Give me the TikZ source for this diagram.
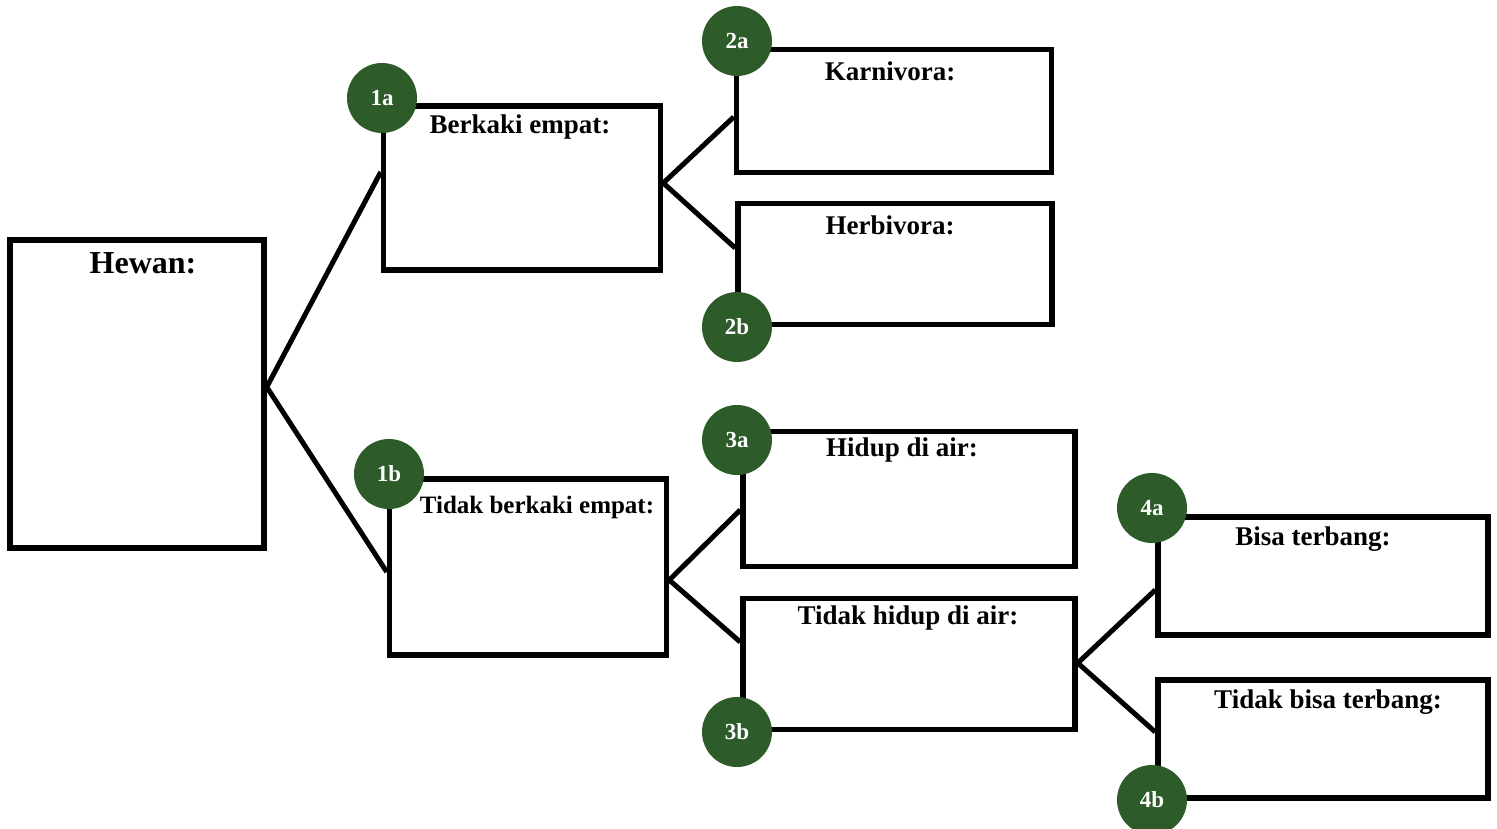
\documentclass[tikz,border=0pt]{standalone}
\usepackage{fontspec}
\setmainfont{Liberation Serif}
\definecolor{leafgreen}{RGB}{46,91,42}
\begin{document}
\begin{tikzpicture}
    [
    x=1pt,y=-1pt,
    box/.style={rectangle,draw,line width=5.5pt,inner sep=0pt},
    title/.style={anchor=base,inner sep=0pt,font=\bfseries\fontsize{27}{30}\selectfont},
    badge/.style={circle,fill=leafgreen,text=white,inner sep=0pt,minimum size=70pt,font=\bfseries\fontsize{23}{25}\selectfont},
    link/.style={line width=5pt}
    ]
    \useasboundingbox (0,0) rectangle (1497,829);
    \node (hewan) at (137,394) [box,minimum width=254pt,minimum height=308pt,label={[title,xshift=6pt,yshift=-36pt,font=\bfseries\fontsize{32}{34}\selectfont]north:Hewan:}] {};
    \node (berkaki) at (522,188) [box,minimum width=277pt,minimum height=164pt,label={[title,xshift=-2pt,yshift=-30pt]north:Berkaki empat:}] {};
    \node (tberkaki) at (528,567) [box,minimum width=277pt,minimum height=176pt,label={[title,xshift=9pt,yshift=-37pt,font=\bfseries\fontsize{25}{28}\selectfont]north:Tidak berkaki empat:}] {};
    \node (karnivora) at (894,111) [box,minimum width=315pt,minimum height=123pt,label={[title,xshift=-4pt,yshift=-34pt]north:Karnivora:}] {};
    \node (herbivora) at (895,264) [box,minimum width=314pt,minimum height=121pt,label={[title,xshift=-5pt,yshift=-34pt]north:Herbivora:}] {};
    \node (hidup) at (909,499) [box,minimum width=332pt,minimum height=135pt,label={[title,xshift=-7pt,yshift=-28pt]north:Hidup di air:}] {};
    \node (thidup) at (909,664) [box,minimum width=332pt,minimum height=131pt,label={[title,xshift=-1pt,yshift=-29pt]north:Tidak hidup di air:}] {};
    \node (bisa) at (1323,576) [box,minimum width=330pt,minimum height=118pt,label={[title,xshift=-10pt,yshift=-31pt]north:Bisa terbang:}] {};
    \node (tbisa) at (1323,739) [box,minimum width=330pt,minimum height=118pt,label={[title,xshift=5pt,yshift=-31pt]north:Tidak bisa terbang:}] {};
    \draw [link] ([yshift=7pt]hewan.east) -- ([yshift=16pt]berkaki.west);
    \draw [link] ([yshift=7pt]hewan.east) -- ([yshift=-5pt]tberkaki.west);
    \draw [link] ([yshift=5pt]berkaki.east) -- ([yshift=-6pt]karnivora.west);
    \draw [link] ([yshift=5pt]berkaki.east) -- ([yshift=16pt]herbivora.west);
    \draw [link] ([yshift=-13pt]tberkaki.east) -- ([yshift=-11pt]hidup.west);
    \draw [link] ([yshift=-13pt]tberkaki.east) -- ([yshift=22pt]thidup.west);
    \draw [link] ([yshift=1pt]thidup.east) -- ([yshift=-14pt]bisa.west);
    \draw [link] ([yshift=1pt]thidup.east) -- ([yshift=7pt]tbisa.west);
    \node (b1a) at (382,98) [badge] {1a};
    \node (b1b) at (389,474) [badge] {1b};
    \node (b2a) at (737,41) [badge] {2a};
    \node (b2b) at (737,327) [badge] {2b};
    \node (b3a) at (737,440) [badge] {3a};
    \node (b3b) at (737,732) [badge] {3b};
    \node (b4a) at (1152,508) [badge] {4a};
    \node (b4b) at (1152,800) [badge] {4b};
\end{tikzpicture}
\end{document}
